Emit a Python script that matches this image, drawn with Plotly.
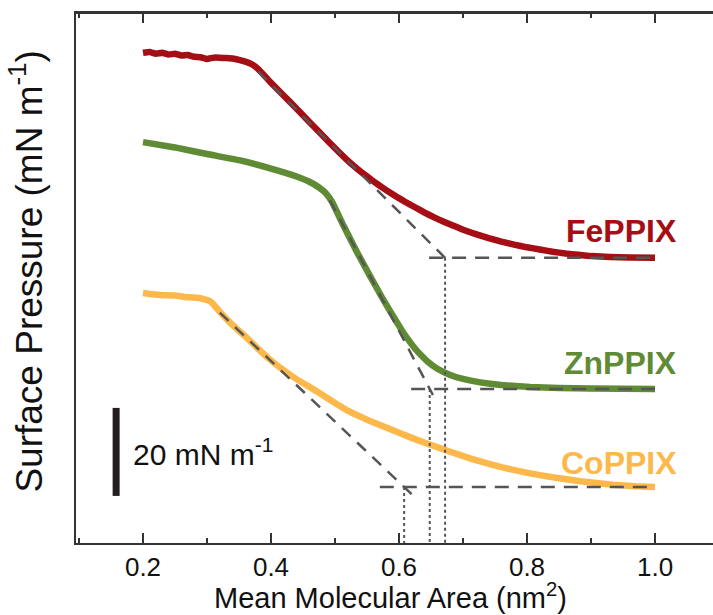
import plotly.graph_objects as go

# ---- data (surface pressure in mN/m vs mean molecular area in nm^2) ----
fe_x = [0.200, 0.210, 0.220, 0.230, 0.240, 0.250, 0.260, 0.270, 0.280, 0.290, 0.300, 0.310,
        0.320, 0.330, 0.340, 0.350, 0.360, 0.370, 0.380, 0.400, 0.430, 0.460, 0.490, 0.520,
        0.535, 0.550, 0.565, 0.580, 0.595, 0.610, 0.625, 0.640, 0.655, 0.670, 0.685, 0.700,
        0.720, 0.740, 0.760, 0.780, 0.800, 0.820, 0.840, 0.860, 0.880, 0.900, 0.930, 0.960, 1.000]
fe_p = [46.6, 46.8, 46.4, 46.6, 46.2, 46.4, 46.0, 46.1, 45.7, 45.6, 45.2, 45.5,
        45.5, 45.4, 45.3, 45.0, 44.6, 44.0, 42.9, 39.8, 35.4, 30.9, 26.4, 22.1,
        20.2, 18.5, 16.9, 15.4, 14.0, 12.7, 11.5, 10.3, 9.2, 8.2, 7.3, 6.4,
        5.4, 4.5, 3.7, 3.0, 2.4, 1.9, 1.4, 1.0, 0.7, 0.4, 0.2, 0.1, 0.0]

zn_x = [0.200, 0.250, 0.300, 0.350, 0.400, 0.440, 0.460, 0.475, 0.485, 0.495, 0.513, 0.534,
        0.555, 0.575, 0.594, 0.605, 0.615, 0.625, 0.635, 0.645, 0.660, 0.680, 0.700, 0.727,
        0.760, 0.805, 0.850, 0.900, 1.000]
zn_p = [56.1, 54.9, 53.4, 52.0, 50.1, 48.3, 47.1, 45.8, 44.6, 42.6, 37.2, 31.2,
        25.6, 20.4, 15.8, 13.2, 11.1, 9.2, 7.6, 6.2, 4.6, 3.2, 2.3, 1.5,
        0.9, 0.45, 0.25, 0.1, 0.0]

co_x = [0.200, 0.215, 0.231, 0.250, 0.265, 0.284, 0.295, 0.305, 0.312, 0.320, 0.340, 0.363,
        0.380, 0.398, 0.420, 0.441, 0.472, 0.500, 0.523, 0.550, 0.575, 0.600, 0.628, 0.655,
        0.680, 0.705, 0.727, 0.760, 0.805, 0.840, 0.883, 0.934, 0.970, 1.000]
co_p = [44.1, 43.8, 43.6, 43.5, 43.2, 43.0, 42.7, 42.2, 41.2, 39.8, 36.8, 33.8,
        31.4, 29.0, 26.5, 24.4, 21.7, 19.1, 17.1, 15.3, 13.8, 12.3, 10.7, 9.3,
        8.0, 6.8, 5.8, 4.5, 3.1, 2.2, 1.3, 0.5, 0.15, 0.0]

names = ["FePPIX", "ZnPPIX", "CoPPIX"]
colors = ["#A50E14", "#608B35", "#FDB84B"]
offsets = [64.8, 35.0, 12.73]          # vertical stacking offsets (mN/m)

# limiting-area tangent constructions
lim_area = [0.672, 0.648, 0.608]       # extrapolated area at zero pressure
tan_start = [0.380, 0.492, 0.320]      # tangent drawn from this area
tan_end = [0.680, 0.653, 0.628]
tan_slope = [145.0, 275.0, 137.6]      # -dPi/dA of the tangent
base_start = [0.647, 0.619, 0.570]     # horizontal baseline starts

scale_bar = 20.0                       # mN/m
bar_x = 0.158
bar_y0 = 10.7

x_range = [0.0953, 1.0906]
y_range = [0, 120.45]

series = [(fe_x, fe_p), (zn_x, zn_p), (co_x, co_p)]

fig = go.Figure()
for (xs, ps), c, off in zip(series, colors, offsets):
    fig.add_trace(go.Scatter(x=xs, y=[p + off for p in ps], mode="lines",
                             line=dict(color=c, width=6.5, shape="spline", smoothing=0.3),
                             showlegend=False, hoverinfo="skip"))

dash_col = "#555555"
for i in range(3):
    off = offsets[i]
    a0, a1, k, ac = tan_start[i], tan_end[i], tan_slope[i], lim_area[i]
    fig.add_trace(go.Scatter(x=[a0, a1], y=[k * (ac - a0) + off, k * (ac - a1) + off],
                             mode="lines", line=dict(color=dash_col, width=2.5, dash="12px,9px"),
                             showlegend=False, hoverinfo="skip"))
    fig.add_trace(go.Scatter(x=[base_start[i], 1.0], y=[off, off], mode="lines",
                             line=dict(color=dash_col, width=2.5, dash="14px,9px"),
                             showlegend=False, hoverinfo="skip"))
    fig.add_trace(go.Scatter(x=[ac, ac], y=[off, 0], mode="lines",
                             line=dict(color=dash_col, width=2, dash="dot"),
                             showlegend=False, hoverinfo="skip"))

# scale bar
fig.add_trace(go.Scatter(x=[bar_x, bar_x], y=[bar_y0, bar_y0 + scale_bar], mode="lines",
                         line=dict(color="#231F20", width=7), showlegend=False, hoverinfo="skip"))
fig.add_annotation(x=0.181, y=bar_y0 + scale_bar / 2, text="20 mN m<sup>-1</sup>",
                   showarrow=False, xanchor="left", yanchor="middle",
                   font=dict(size=30, color="#111111"))

# invisible trace on the top (mirror) axis so it is drawn
fig.add_trace(go.Scatter(x=[x_range[0]], y=[y_range[0]], xaxis="x2", mode="markers",
                         marker=dict(opacity=0), showlegend=False, hoverinfo="skip"))

label_y = [70.8, 40.9, 18.2]
for n, c, ly in zip(names, colors, label_y):
    fig.add_annotation(x=1.038, y=ly, text="<b>%s</b>" % n, showarrow=False,
                       xanchor="right", yanchor="middle",
                       font=dict(size=32, color=c))

fig.add_annotation(x=0.493, y=-0.138, xref="paper", yref="paper",
                   text="Mean Molecular Area (nm<sup>2</sup>)", showarrow=False,
                   xanchor="center", yanchor="bottom", font=dict(size=29, color="#111111"))
fig.add_annotation(x=-0.077, y=0.512, xref="paper", yref="paper",
                   text="Surface Pressure (mN m<sup>-1</sup>)", showarrow=False, textangle=-90,
                   xanchor="center", yanchor="middle", font=dict(size=37, color="#111111"))

# top frame line
fig.add_shape(type="line", xref="paper", yref="paper", x0=0, x1=1, y0=1, y1=1,
              line=dict(color="#333333", width=2))

axcol = "#333333"
fig.update_layout(
    width=713, height=615,
    margin=dict(l=76, r=0, t=13, b=72),
    paper_bgcolor="white", plot_bgcolor="white",
    font=dict(family="Liberation Sans, Arial, sans-serif", color="#111111"),
    xaxis=dict(range=x_range, showline=True, linecolor=axcol, linewidth=2,
               gridcolor="white", zerolinecolor="white",
               ticks="inside", ticklen=10, tickwidth=2, tickcolor=axcol,
               dtick=0.2, tick0=0.2, tickformat=".1f",
               tickfont=dict(size=26, color="#111111"),
               minor=dict(ticks="inside", ticklen=5, tickwidth=2, tickcolor=axcol, dtick=0.1)),
    xaxis2=dict(range=x_range, overlaying="x", side="top", anchor="y",
                showline=True, linecolor=axcol, linewidth=2, gridcolor="white",
                zerolinecolor="white",
                ticks="inside", ticklen=10, tickwidth=2, tickcolor=axcol,
                dtick=0.2, tick0=0.2, showticklabels=False,
                minor=dict(ticks="inside", ticklen=5, tickwidth=2, tickcolor=axcol, dtick=0.1)),
    yaxis=dict(range=y_range, showgrid=False, zeroline=False, showticklabels=False,
               showline=True, linecolor=axcol, linewidth=2, ticks=""),
)

fig.write_html("out.html")
